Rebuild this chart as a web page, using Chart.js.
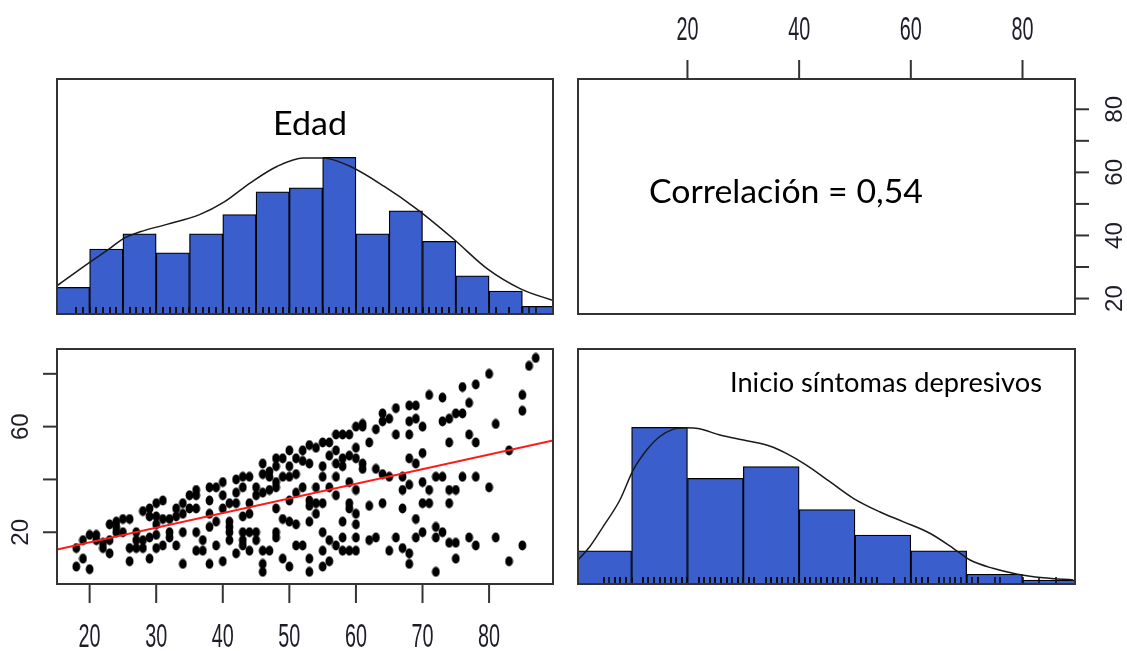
<!DOCTYPE html>
<html lang="es">
<head>
<meta charset="utf-8">
<title>Edad e inicio de síntomas depresivos</title>
<script src="https://cdn.jsdelivr.net/npm/chart.js@4.4.1/dist/chart.umd.min.js"></script>
<style>
  html, body { margin: 0; padding: 0; background: #fff; }
  #stage { position: relative; width: 1127px; height: 651px; overflow: hidden; }
  #stage canvas { position: absolute; left: 0; top: 0; }
</style>
</head>
<body>
<div id="stage">
  <canvas id="edadHist" width="1127" height="651"></canvas>
  <canvas id="corrPanel" width="1127" height="651"></canvas>
  <canvas id="scatterPanel" width="1127" height="651"></canvas>
  <canvas id="inicioHist" width="1127" height="651"></canvas>
</div>
<script>
// --- data ---
const edadBinMids = [17.5, 22.5, 27.5, 32.5, 37.5, 42.5, 47.5, 52.5, 57.5, 62.5, 67.5, 72.5, 77.5, 82.5, 87.5];
const edadCounts = [7, 17, 21, 16, 21, 26, 32, 33, 41, 21, 27, 19, 10, 6, 2];

const inicioBinMids = [5, 15, 25, 35, 45, 55, 65, 75, 85];
const inicioCounts = [17, 80, 54, 60, 38, 25, 17, 5, 2];

// density curves, scaled so that their peak is 1 (like the bars)
const edadDensX = [15.1, 20.0, 23.1, 25.0, 27.6, 31.6, 36.6, 40.1, 44.2, 48.2, 52.1, 55.1, 59.1, 64.2, 69.2, 74.7, 79.8, 84.8, 89.7];
const edadDensY = [0.18, 0.33, 0.42, 0.48, 0.525, 0.572, 0.636, 0.712, 0.839, 0.943, 0.996, 0.996, 0.943, 0.816, 0.668, 0.477, 0.286, 0.159, 0.085];

const inicioDensX = [0.4, 2.5, 4.9, 7.9, 10.3, 12.7, 15.0, 17.4, 19.8, 21.9, 25.8, 30.6, 34.7, 37.7, 41.3, 45.5, 49.7, 54.4, 58.6, 63.4, 67.6, 70.6, 74.7, 78.9, 83.7, 89.1];
const inicioDensY = [0.153, 0.238, 0.366, 0.536, 0.728, 0.855, 0.94, 0.987, 0.997, 0.993, 0.951, 0.915, 0.881, 0.834, 0.759, 0.653, 0.547, 0.461, 0.398, 0.324, 0.228, 0.153, 0.1, 0.064, 0.04, 0.026];

// scatter: Edad (x) against Inicio síntomas depresivos (y)
const edadObs = [
  18, 18, 19, 19, 20, 20, 21, 21, 22, 22,
  23, 23, 23, 24, 24, 24, 25, 25, 26, 26,
  26, 27, 27, 27, 28, 28, 28, 29, 29, 29,
  29, 30, 30, 30, 30, 30, 31, 31, 31, 32,
  32, 32, 33, 33, 33, 34, 34, 34, 34, 35,
  35, 36, 36, 36, 36, 36, 37, 37, 38, 38,
  38, 38, 38, 39, 39, 39, 40, 40, 40, 40,
  41, 41, 41, 41, 41, 42, 42, 42, 42, 43,
  43, 43, 43, 43, 43, 44, 44, 44, 44, 44,
  45, 45, 45, 45, 46, 46, 46, 46, 46, 46,
  47, 47, 47, 47, 48, 48, 48, 48, 48, 48,
  48, 49, 49, 49, 49, 50, 50, 50, 50, 50,
  50, 51, 51, 51, 51, 51, 52, 52, 52, 52,
  53, 53, 53, 53, 53, 53, 53, 54, 54, 54,
  54, 55, 55, 55, 55, 55, 55, 55, 56, 56,
  56, 56, 56, 57, 57, 57, 57, 57, 57, 58,
  58, 58, 58, 58, 58, 59, 59, 59, 59, 59,
  59, 60, 60, 60, 60, 60, 60, 60, 60, 61,
  61, 61, 61, 62, 62, 62, 63, 63, 63, 64,
  64, 64, 64, 65, 65, 65, 66, 66, 66, 67,
  67, 67, 67, 68, 68, 68, 68, 68, 68, 68,
  69, 69, 69, 69, 69, 70, 70, 70, 70, 70,
  71, 71, 71, 72, 72, 72, 72, 73, 73, 73,
  73, 74, 74, 74, 74, 74, 75, 75, 75, 75,
  76, 76, 76, 77, 77, 77, 78, 78, 78, 78,
  80, 80, 81, 81, 83, 83, 85, 85, 85, 86,
  87,
];
const inicioObs = [
  14, 7, 17, 10, 19, 6, 17, 19, 16, 14,
  23, 17, 12, 22, 20, 24, 20, 25, 25, 14,
  9, 20, 17, 14, 17, 14, 28, 29, 26, 18,
  10, 26, 23, 19, 14, 31, 32, 25, 15, 25,
  18, 20, 29, 26, 15, 31, 27, 20, 8, 34,
  29, 36, 29, 20, 13, 34, 17, 13, 37, 32,
  27, 22, 8, 37, 24, 15, 39, 34, 29, 9,
  31, 24, 22, 20, 17, 40, 35, 31, 12, 41,
  37, 26, 20, 17, 15, 41, 31, 27, 20, 13,
  37, 34, 20, 17, 46, 42, 35, 13, 8, 5,
  13, 43, 41, 36, 48, 45, 37, 29, 20, 18,
  39, 48, 41, 25, 10, 45, 41, 24, 7, 32,
  51, 42, 48, 23, 15, 35, 51, 47, 37, 15,
  46, 30, 24, 53, 32, 10, 5, 52, 37, 27,
  31, 54, 45, 41, 31, 20, 13, 7, 54, 49,
  37, 17, 9, 57, 51, 46, 41, 34, 15, 57,
  48, 45, 24, 18, 13, 57, 49, 39, 31, 29,
  13, 60, 52, 48, 36, 27, 23, 18, 13, 61,
  46, 44, 60, 54, 30, 17, 59, 44, 18, 65,
  62, 42, 31, 63, 13, 41, 67, 57, 18, 41,
  36, 29, 14, 68, 62, 57, 48, 38, 12, 8,
  68, 63, 46, 25, 18, 60, 50, 39, 31, 20,
  72, 36, 31, 41, 22, 18, 5, 71, 62, 41,
  20, 63, 54, 36, 31, 16, 65, 36, 16, 10,
  65, 75, 41, 69, 57, 18, 76, 54, 41, 15,
  80, 37, 61, 18, 51, 9, 72, 66, 15, 83,
  86,
];

// least squares line, end points at the panel edges
const fitX = [15.1, 89.6];
const fitY = [13.5, 54.8];

// axis ranges and ticks
const edadRange = [15.1, 89.6];
const inicioRange = [0.4, 89.4];
const histRange = [0, 1.5];

const edadTicks = [20, 30, 40, 50, 60, 70, 80];
const edadRightLabels = [20, 40, 60, 80];
const inicioTicks = [20, 40, 60, 80];
const inicioLeftLabels = [20, 60];

const correlationText = 'Correlación = 0,54';

// --- layout and look ---
const PAGE_W = 1127;
const PAGE_H = 651;

const panels = {
  topLeft: { left: 57, top: 79, right: 553, bottom: 314 },
  topRight: { left: 578, top: 79, right: 1075, bottom: 314 },
  bottomLeft: { left: 57, top: 349, right: 553, bottom: 584 },
  bottomRight: { left: 578, top: 349, right: 1075, bottom: 584 },
};

const histFill = '#3a5fcd';
const inkColor = '#333333';
const labelColor = '#1d1d29';

const makeDot = () => {
    const c = document.createElement('canvas');
    c.width = 9;
    c.height = 11;
    const g = c.getContext('2d');
    g.fillStyle = '#000';
    g.beginPath();
    g.ellipse(4.5, 5.5, 3.9, 5, 0, 0, Math.PI * 2);
    g.fill();
    return c;
};

// rug tick: only the upper half is inked, so it stands on the baseline
const makeRug = () => {
    const c = document.createElement('canvas');
    c.width = 2;
    c.height = 14;
    const g = c.getContext('2d');
    g.fillStyle = '#111';
    g.fillRect(0.2, 0, 1.6, 7);
    return c;
};

const dotMark = makeDot();
const rugMark = makeRug();

const tickLabel = (ctx, text, x, y, rotated) => {
    ctx.save();
    ctx.translate(x, y);
    if (rotated) {
        ctx.rotate(-Math.PI / 2);
        ctx.scale(1.05, 1);
        ctx.font = '23px "Liberation Sans", Arial, sans-serif';
        ctx.fillText(text, 0, 23 * 0.35);
    } else {
        ctx.scale(0.6, 1);
        ctx.font = '33px "Liberation Sans", Arial, sans-serif';
        ctx.fillText(text, 0, 33 * 0.35);
    }
    ctx.restore();
};

const drawNote = (ctx, note) => {
    ctx.save();
    ctx.font = `${note.size}px Lato, "Open Sans", sans-serif`;
    ctx.textAlign = 'left';
    ctx.fillStyle = '#000';
    const width = ctx.measureText(note.text).width;
    ctx.translate(note.left, note.baseline);
    ctx.scale((note.right - note.left) / width, 1);
    ctx.fillText(note.text, 0, 0);
    ctx.restore();
};

const panelFrame = ({ axes = [], notes = [] }) => ({
    id: 'panelFrame',
    afterDraw(chart) {
        const { ctx, chartArea: area, scales } = chart;
        ctx.save();
        ctx.strokeStyle = inkColor;
        ctx.lineWidth = 2;
        ctx.strokeRect(area.left, area.top, area.right - area.left, area.bottom - area.top);
        ctx.fillStyle = labelColor;
        ctx.textAlign = 'center';
        ctx.textBaseline = 'alphabetic';

        axes.forEach((axis) => {
            const horizontal = axis.side === 'top' || axis.side === 'bottom';
            const scale = horizontal ? scales.x : scales.y;
            axis.ticks.forEach((value) => {
                const p = scale.getPixelForValue(value);
                ctx.beginPath();
                if (axis.side === 'bottom') {
                    ctx.moveTo(p, area.bottom);
                    ctx.lineTo(p, area.bottom + 19);
                } else if (axis.side === 'top') {
                    ctx.moveTo(p, area.top);
                    ctx.lineTo(p, area.top - 19);
                } else if (axis.side === 'left') {
                    ctx.moveTo(area.left, p);
                    ctx.lineTo(area.left - 14, p);
                } else {
                    ctx.moveTo(area.right, p);
                    ctx.lineTo(area.right + 14, p);
                }
                ctx.stroke();

                if (!axis.labels.includes(value)) {
                    return;
                }
                const text = String(value);
                if (axis.side === 'bottom') {
                    tickLabel(ctx, text, p, area.bottom + 51, false);
                } else if (axis.side === 'top') {
                    tickLabel(ctx, text, p, area.top - 51, false);
                } else if (axis.side === 'left') {
                    tickLabel(ctx, text, area.left - 37, p, true);
                } else {
                    tickLabel(ctx, text, area.right + 39, p, true);
                }
            });
        });

        notes.forEach((note) => drawNote(ctx, note));
        ctx.restore();
    },
});

const hiddenAxis = ([min, max]) => ({
    type: 'linear',
    display: false,
    min,
    max,
    offset: false,
    ticks: { stepSize: 100 },
});

const baseOptions = (box, xRange, yRange) => ({
    responsive: false,
    animation: false,
    devicePixelRatio: 1,
    events: [],
    layout: {
        padding: {
            left: box.left,
            top: box.top,
            right: PAGE_W - box.right,
            bottom: PAGE_H - box.bottom,
        },
    },
    scales: {
        x: hiddenAxis(xRange),
        y: hiddenAxis(yRange),
    },
    plugins: {
        legend: { display: false },
        tooltip: { enabled: false },
    },
});

const toPoints = (xs, ys) => xs.map((x, i) => ({ x, y: ys[i] }));

const histDatasets = (mids, counts, densX, densY, rugValues) => {
    const peak = Math.max(...counts);
    return [
        {
            type: 'line',
            data: toPoints(densX, densY),
            borderColor: '#1a1a1a',
            borderWidth: 1.5,
            pointRadius: 0,
            cubicInterpolationMode: 'monotone',
            fill: false,
            clip: 0,
            order: 0,
        },
        {
            type: 'scatter',
            data: rugValues.map((x) => ({ x, y: 0 })),
            pointStyle: rugMark,
            order: 1,
        },
        {
            type: 'bar',
            data: mids.map((x, i) => ({ x, y: counts[i] / peak })),
            backgroundColor: histFill,
            borderColor: '#000',
            borderWidth: 1.3,
            borderSkipped: false,
            barPercentage: 1,
            categoryPercentage: 1,
            clip: 0,
            order: 2,
        },
    ];
};

// Edad histogram (top left)
new Chart(document.getElementById('edadHist'), {
    type: 'bar',
    data: { datasets: histDatasets(edadBinMids, edadCounts, edadDensX, edadDensY, edadObs) },
    options: baseOptions(panels.topLeft, edadRange, histRange),
    plugins: [panelFrame({
        notes: [{ text: 'Edad', left: 273, right: 347, baseline: 135, size: 32 }],
    })],
});

// correlation panel (top right)
new Chart(document.getElementById('corrPanel'), {
    type: 'scatter',
    data: { datasets: [] },
    options: baseOptions(panels.topRight, inicioRange, edadRange),
    plugins: [panelFrame({
        axes: [
            { side: 'top', ticks: inicioTicks, labels: inicioTicks },
            { side: 'right', ticks: edadTicks, labels: edadRightLabels },
        ],
        notes: [{ text: correlationText, left: 649, right: 923, baseline: 203, size: 32 }],
    })],
});

// scatter with fitted line (bottom left)
new Chart(document.getElementById('scatterPanel'), {
    type: 'scatter',
    data: {
        datasets: [
            {
                type: 'line',
                data: toPoints(fitX, fitY),
                borderColor: '#ff1a1a',
                borderWidth: 2,
                pointRadius: 0,
                fill: false,
                clip: 0,
                order: 0,
            },
            {
                data: toPoints(edadObs, inicioObs),
                pointStyle: dotMark,
                order: 1,
            },
        ],
    },
    options: baseOptions(panels.bottomLeft, edadRange, inicioRange),
    plugins: [panelFrame({
        axes: [
            { side: 'bottom', ticks: edadTicks, labels: edadTicks },
            { side: 'left', ticks: inicioTicks, labels: inicioLeftLabels },
        ],
    })],
});

// Inicio histogram (bottom right)
new Chart(document.getElementById('inicioHist'), {
    type: 'bar',
    data: { datasets: histDatasets(inicioBinMids, inicioCounts, inicioDensX, inicioDensY, inicioObs) },
    options: baseOptions(panels.bottomRight, inicioRange, histRange),
    plugins: [panelFrame({
        notes: [{ text: 'Inicio síntomas depresivos', left: 730, right: 1042, baseline: 392, size: 27 }],
    })],
});
</script>
</body>
</html>
